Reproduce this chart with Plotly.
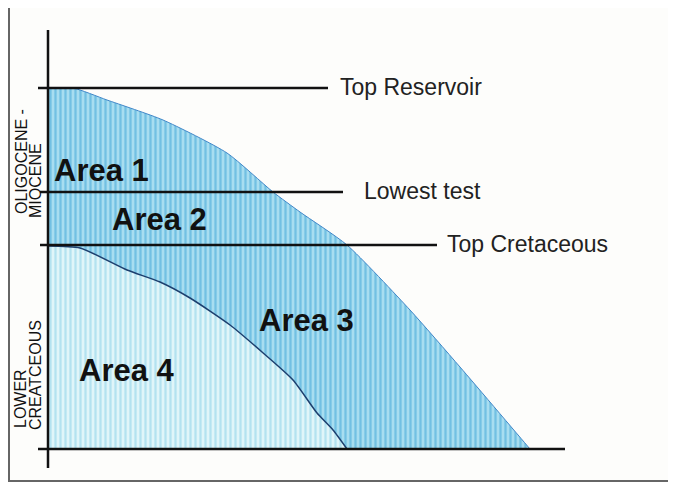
import plotly.graph_objects as go

# ---- data (schematic units: distance along section / depth) ----
outer_x = [48, 73, 107, 163, 227, 273, 300, 347, 410, 460, 530]
outer_y = [88, 88, 100, 120, 153, 192, 212, 245, 310, 367, 449]

inner_x = [48, 80, 127, 160, 190, 230, 262, 293, 317, 333, 347]
inner_y = [246, 248, 270, 282, 298, 325, 352, 380, 413, 430, 449]

base_depth = 449
axis_left = 48

horizon_names = ["Top Reservoir", "Lowest test", "Top Cretaceous"]
horizon_depth = [88, 192, 245]
horizon_start = [38, 40, 40]
horizon_end = [328, 343, 437]
horizon_label_x = [338, 362, 445]

area_labels = ["Area 1", "Area 2", "Area 3", "Area 4"]
area_x = [101, 159, 306, 127]
area_y = [170, 219, 320, 370]

epoch_lines = ["OLIGOCENE -", "MIOCENE", "LOWER", "CREATCEOUS"]
epoch_x = [21, 35, 20, 35]
epoch_y = [162, 181, 399, 375]

FONT = "Liberation Sans, Arial, sans-serif"

fig = go.Figure()

# Areas 1-3 (outer body)
fig.add_trace(go.Scatter(
    x=outer_x + [outer_x[-1], axis_left],
    y=outer_y + [base_depth, base_depth],
    mode="lines", fill="toself",
    line=dict(color="#3f86c8", width=1, shape="spline", smoothing=0.6),
    fillcolor="#9fd6ec",
    fillpattern=dict(shape="|", bgcolor="#a8ddf0", fgcolor="#72c0e3",
                     size=5, solidity=0.45, fillmode="replace"),
    hoverinfo="skip", showlegend=False,
))

# Area 4 (lower, lighter)
fig.add_trace(go.Scatter(
    x=inner_x + [inner_x[-1], axis_left],
    y=inner_y + [base_depth, base_depth],
    mode="lines", fill="toself",
    line=dict(color="rgba(0,0,0,0)", width=0, shape="spline", smoothing=0.6),
    fillcolor="#d4f0f7",
    fillpattern=dict(shape="|", bgcolor="#e0f5f9", fgcolor="#b3e2f0",
                     size=5, solidity=0.45, fillmode="replace"),
    hoverinfo="skip", showlegend=False,
))
# Area 4 boundary
fig.add_trace(go.Scatter(
    x=inner_x, y=inner_y, mode="lines",
    line=dict(color="#1d3f6e", width=1.5, shape="spline", smoothing=0.6),
    hoverinfo="skip", showlegend=False,
))

shapes = []
for d, s, e in zip(horizon_depth, horizon_start, horizon_end):
    shapes.append(dict(type="line", xref="x", yref="y", x0=s, x1=e, y0=d, y1=d,
                       line=dict(color="#111", width=2.5)))
shapes.append(dict(type="line", xref="x", yref="y", x0=axis_left, x1=axis_left,
                   y0=30, y1=468, line=dict(color="#111", width=2.5)))
shapes.append(dict(type="line", xref="x", yref="y", x0=38, x1=565,
                   y0=base_depth, y1=base_depth, line=dict(color="#111", width=2.5)))
# frame
shapes.append(dict(type="line", xref="x", yref="y", x0=9, x1=9, y0=5, y1=482,
                   line=dict(color="#666", width=2)))
shapes.append(dict(type="line", xref="x", yref="y", x0=9, x1=676, y0=5, y1=5,
                   line=dict(color="#444", width=2)))
shapes.append(dict(type="line", xref="x", yref="y", x0=9, x1=676, y0=481, y1=481,
                   line=dict(color="#666", width=2)))

annotations = []
for name, d, lx in zip(horizon_names, horizon_depth, horizon_label_x):
    annotations.append(dict(x=lx, y=d - 1, xref="x", yref="y", text=name,
                            showarrow=False, xanchor="left", yanchor="middle",
                            font=dict(family=FONT, size=23, color="#222")))
for name, ax, ay in zip(area_labels, area_x, area_y):
    annotations.append(dict(x=ax, y=ay, xref="x", yref="y", text="<b>" + name + "</b>",
                            showarrow=False, xanchor="center", yanchor="middle",
                            font=dict(family=FONT, size=31, color="#111")))
for name, ex, ey in zip(epoch_lines, epoch_x, epoch_y):
    annotations.append(dict(x=ex, y=ey, xref="x", yref="y", text=name, textangle=-90,
                            showarrow=False, xanchor="center", yanchor="middle",
                            font=dict(family=FONT, size=16, color="#111")))

# page body has an 8px margin: map data units straight onto window pixels
fig.update_layout(
    width=668, height=474,
    margin=dict(l=0, r=0, t=0, b=0),
    paper_bgcolor="#fdfdfb", plot_bgcolor="#fdfdfb",
    xaxis=dict(range=[8, 676], visible=False, fixedrange=True),
    yaxis=dict(range=[482, 8], visible=False, fixedrange=True),
    shapes=shapes, annotations=annotations,
    showlegend=False,
)

fig.write_html("out.html")
